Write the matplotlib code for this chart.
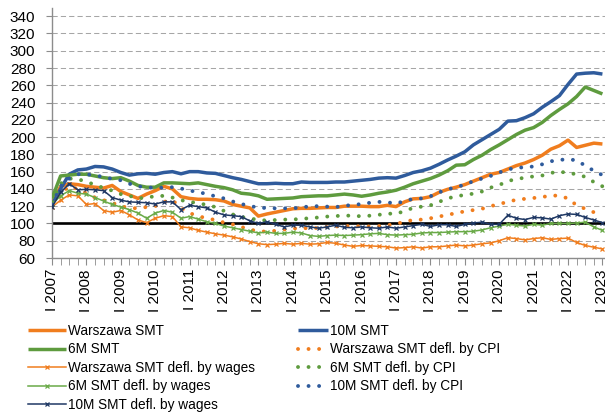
import matplotlib
matplotlib.use("Agg")
import matplotlib.pyplot as plt

# --- DATA (quarterly, I 2007 .. I 2023) ---
years = list(range(2007, 2024))
year_labels = [f"I {y}" for y in years]

warszawa_smt = [122, 143, 146, 145, 143, 142, 141, 144, 137, 133,
                129, 134, 138, 143, 140, 131, 129, 128, 128, 127.5,
                126, 122, 120, 118, 108.5, 111, 113, 115, 117, 117.5,
                117.5, 118, 118.5, 118.5, 120, 120, 120, 119.5, 119.5, 121,
                119.5, 125, 128.5, 129, 131, 136, 139.5, 142, 145, 149,
                153, 157, 159, 163, 167, 170, 174, 179, 186, 190,
                196.5, 188, 190.5, 193, 192]
ten_m_smt = [122, 140, 157, 162, 163, 166, 165.5, 163, 159, 156,
             157.5, 158, 157, 159, 160, 157.5, 160, 160, 158.5, 158,
             155.5, 153, 151, 148.5, 146, 146, 146.5, 146, 146, 148,
             147.5, 147.5, 147.5, 148, 148, 149, 150, 151, 152.5, 153,
             152.5, 155.5, 159, 161, 164, 168.5, 173.5, 178, 183, 191,
             197, 203, 209, 218.5, 219, 222.5, 227, 234.5, 241, 248,
             261, 273, 274, 274.5, 273]
six_m_smt = [129, 155, 156, 157, 157, 155, 153, 152, 153, 149,
             144, 142, 142, 147, 147, 146.5, 146, 147, 145, 143,
             141.5, 139, 135, 134, 132, 128, 128.5, 129, 129.5, 131,
             131.5, 132, 132, 133, 134, 133, 131.5, 133, 135, 136.5,
             138.5, 142, 146, 149, 152, 156, 161, 167.5, 168, 174,
             179, 185.5, 191, 197, 203, 208, 211, 217, 225, 232,
             238.5, 247, 258, 254, 250]
warszawa_cpi = [122, 135, 143, 140, 135, 130, 127, 124, 120, 118,
                117.5, 119, 120, 125, 127, 118, 112, 108.5, 106, 104,
                101, 99, 96, 93, 91, 90.5, 91.5, 93, 94, 95,
                94, 95, 96, 96.5, 97, 97, 96.5, 96.5, 97, 98,
                99.5, 102, 104, 104.5, 106, 108, 110, 112, 114, 115.5,
                117, 120, 122.5, 125, 127.5, 128.5, 129.5, 130.5, 132.5, 132,
                129, 121, 117, 113, 110]
six_m_cpi = [125, 146, 152, 151.5, 148, 145, 141, 138, 134, 132,
             129, 130, 131.5, 132, 130, 127, 125, 123.5, 121.5, 119,
             114.5, 110.5, 107.5, 106, 104, 103.5, 104, 104.5, 104.5, 105.5,
             106, 107, 108, 108.5, 109.5, 108.5, 108.5, 109, 110, 111.5,
             111, 114.5, 118, 119.5, 121, 125, 129, 131.5, 133, 134.5,
             137, 141.5, 144.5, 149, 151.5, 153, 154.5, 155.5, 158.5, 160,
             158.5, 157, 154, 148, 143]
ten_m_cpi = [122, 143, 152, 157, 157, 155.5, 154, 151.5, 150, 146,
             143, 142, 141, 141.5, 142, 140.5, 138, 136.5, 134, 131.5,
             129, 125.5, 122.5, 120.5, 118, 118, 117.5, 117.5, 117.5, 118.5,
             120, 120, 119.5, 119, 120.5, 121.5, 122.5, 124, 125, 124.5,
             123, 126, 128.5, 129, 131.5, 136, 139.5, 142, 145, 149,
             152, 155, 159, 162.5, 164.5, 165, 166, 168.5, 172, 173.5,
             174.5, 173, 167, 161, 156]
warszawa_wages = [119, 127, 133, 132, 122, 123, 115, 113, 115, 110,
                  104, 101, 106, 109, 108, 96, 95, 92, 90, 88,
                  86.5, 84.5, 82, 79, 76.5, 75.5, 76, 77, 76, 77,
                  76, 76.5, 78, 77, 75, 73.5, 74.5, 74, 73.5, 73,
                  71.5, 72, 73, 71.5, 73, 73, 74, 75, 74, 75,
                  76.5, 77.5, 80, 83.5, 82.5, 81, 82.5, 83.5, 81.5, 82.5,
                  83, 78, 74.5, 72.5, 70.5]
six_m_wages = [122, 132, 138, 135, 134, 130, 126, 122, 119, 116,
               112, 106, 112, 115, 113, 106, 108, 105, 102, 100,
               97, 95, 93, 91, 89, 90, 88.5, 88.5, 90, 89,
               86, 85, 86, 86.5, 86, 86.5, 87, 88, 88.5, 87,
               86.5, 87, 87.5, 89, 89.5, 89.5, 90, 90.5, 90.5, 91,
               92.5, 95, 97, 99, 98, 97, 99, 98, 100, 100,
               100, 100.5, 101.5, 96, 92]
ten_m_wages = [119, 136, 146, 139, 139.5, 139, 138, 130, 127, 125,
               124.5, 124, 122.5, 125, 125, 116, 121, 119.5, 118, 113,
               110, 109, 108, 103, 100, 102, 99, 96, 98, 98,
               96, 94.5, 96, 98, 95.5, 95, 96, 95, 94.5, 96,
               94.5, 96, 97.5, 99, 96.5, 98.5, 98.5, 96.5, 99, 100.5,
               101.5, 99, 99, 109.5, 106, 104.5, 107, 106.5, 105, 109,
               111, 110.5, 107, 104, 101]

base_level = 101

# --- STYLE ---
plt.rcParams['font.family'] = ['Liberation Sans', 'DejaVu Sans']
ORANGE = '#F07D1E'
GREEN = '#5E9B3E'
GREEN_L = '#6AAA48'
BLUE = '#2F5B9C'
NAVY = '#1F3864'
GREY = '#8C8C8C'

fig = plt.figure(figsize=(6.05, 4.12), dpi=100)
ax = fig.add_axes([52 / 605, 1 - 258 / 412, 553 / 605, 250 / 412])

x = list(range(len(warszawa_smt)))

ax.axhline(base_level, color='black', lw=1.9, zorder=2)

thick = dict(lw=2.5, solid_capstyle='butt', zorder=3)
dots = dict(lw=2.8, linestyle=(0, (0.01, 2.7)), dash_capstyle='round', zorder=3)
thin = dict(lw=1.1, marker='x', ms=3.5, mew=0.9, zorder=3)

l_w = ax.plot(x, warszawa_smt, color=ORANGE, label='Warszawa SMT', **thick)[0]
l_10 = ax.plot(x, ten_m_smt, color=BLUE, label='10M SMT', **thick)[0]
l_6 = ax.plot(x, six_m_smt, color=GREEN, label='6M SMT', **thick)[0]
l_wc = ax.plot(x, warszawa_cpi, color=ORANGE, label='Warszawa SMT defl. by CPI', **dots)[0]
l_ww = ax.plot(x, warszawa_wages, color=ORANGE, label='Warszawa SMT defl. by wages', **thin)[0]
l_6c = ax.plot(x, six_m_cpi, color=GREEN, label='6M SMT defl. by CPI', **dots)[0]
l_6w = ax.plot(x, six_m_wages, color=GREEN_L, label='6M SMT defl. by wages', **thin)[0]
l_10c = ax.plot(x, ten_m_cpi, color=BLUE, label='10M SMT defl. by CPI', **dots)[0]
l_10w = ax.plot(x, ten_m_wages, color=NAVY, label='10M SMT defl. by wages', **thin)[0]

# --- AXES ---
ax.set_xlim(0, 64.3)
ax.set_ylim(60, 349.5)
ax.set_yticks(range(60, 341, 20))
ax.set_xticks(range(0, len(x), 4))
ax.set_xticklabels(year_labels, rotation=90, fontsize=11)
ax.set_xticks(x, minor=True)
ax.tick_params(axis='y', labelsize=11, length=4, color=GREY, pad=8)
ax.tick_params(axis='x', which='both', length=5, color=GREY, pad=3)

ax.grid(axis='y', color='#A6A6A6', lw=0.75, linestyle=(0, (5, 3)))
ax.set_axisbelow(True)
for s in ('top', 'right'):
    ax.spines[s].set_visible(False)
for s in ('left', 'bottom'):
    ax.spines[s].set_color(GREY)
    ax.spines[s].set_linewidth(1.0)

# --- LEGEND (two blocks) ---
leg_kw = dict(loc='upper left', frameon=False, fontsize=9.8, borderpad=0,
              borderaxespad=0, labelspacing=0.33, handletextpad=0.15)
fig.legend(handles=[l_w, l_6, l_ww, l_6w, l_10w],
           bbox_to_anchor=(28 / 605, 1 - 324 / 412), handlelength=2.8, **leg_kw)
fig.legend(handles=[l_10, l_wc, l_6c, l_10c],
           bbox_to_anchor=(298 / 605, 1 - 324 / 412), handlelength=2.2, **leg_kw)

fig.savefig('out.png', dpi=100)
